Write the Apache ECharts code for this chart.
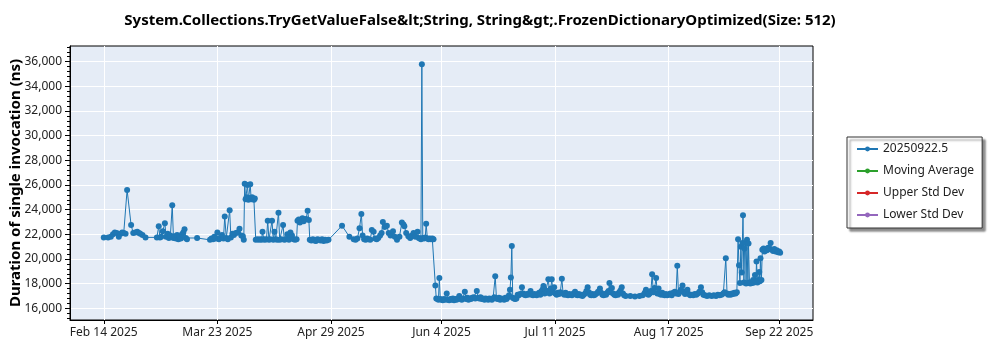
<!DOCTYPE html>
<html>
<head>
<meta charset="utf-8">
<script src="https://cdn.jsdelivr.net/npm/echarts@6/dist/echarts.min.js"></script>
<style>
  html, body { margin: 0; padding: 0; background: #ffffff; }
  #chart { width: 1000px; height: 350px; }
</style>
</head>
<body>
<div id="chart"></div>
<script>
// Benchmark run history: [days since Feb 14 2025, duration in ns]
const febMarRuns = [
  [0,21750],[1.4,21750],[2.3,21800],[3.0,22000],[3.6,22150],[4.2,22100],[4.9,21800],[5.5,22050],
  [6.0,22150],[6.5,22100],[7.1,22050],[7.6,25600],[8.9,22750],[9.6,22100],[10.2,22150],[10.9,22200],
  [11.5,22100],[11.9,22050],[12.6,21950],[13.6,21750],[17.3,21750],[17.9,22650],[18.3,21750],[18.7,21800],
  [19.2,22250],[19.9,22900],[20.3,21800],[20.8,22050],[21.2,21700],[21.7,21900],[22.3,24350],[22.7,21700],
  [23.1,21850],[23.5,21650],[23.9,21950],[24.3,21600],[24.7,21800],[25.1,21650],[25.5,22000],[25.9,22150],
  [26.3,22400],[26.7,21700],[27.1,21600],[30.4,21700],[34.6,21550],[35.1,21650],[35.6,21600],[36.0,21800],
  [36.5,21650],[37.0,22150],[37.5,21600],[38.0,21700],[38.5,21950],[39.0,21650],[39.4,23450],[39.9,21700],
  [40.4,21600],[41.0,23950],[41.4,21750],[41.9,22050],[42.4,21950],[43.0,22100],[43.6,22150],[44.2,22450],
  [44.8,21900],[45.3,21850],[45.6,21550],[45.9,26100],[46.2,24850],[46.5,25000],[46.8,26000],[47.1,24800],
  [47.4,24950],[47.7,26050],[48.0,24850],[48.3,25000],[48.6,24900],[48.9,24800],[49.2,24900]
];
const aprRuns = [
  [49.5,21550],[50.0,21600],[50.5,21550],[51.0,21600],[51.4,21550],[51.7,22200],[52.1,21600],[52.5,21550],
  [53.0,21600],[53.4,23100],[53.8,21550],[54.2,21600],[54.8,23100],[55.2,21550],[55.6,22200],[56.0,21600],
  [56.5,21550],[56.9,23750],[57.3,21550],[57.8,21600],[58.4,22750],[58.8,21550],[59.3,21600],[59.8,22000],
  [60.3,21550],[60.8,22150],[61.3,21900],[61.8,21600],[62.3,21550],[62.8,21600],[63.1,23100],[63.5,23200],
  [63.9,22950],[64.3,23150],[64.7,23300],[65.1,23050],[65.5,23200],[65.9,23250],[66.4,23900],[66.8,23150],
  [67.1,21550],[67.6,21500],[68.1,21600],[68.6,21500],[69.1,21450],[69.6,21600],[70.1,21550],[70.6,21500],
  [71.1,21600],[71.6,21450],[72.1,21550],[72.6,21500],[73.2,21550]
];
const mayRuns = [
  [77.6,22700],[80.0,21800],[81.4,21600],[82.0,21550],[82.6,21650],[83.3,22500],[83.9,23650],[84.3,21900],
  [84.8,21600],[85.3,21550],[85.8,21650],[86.3,21600],[86.8,21550],[87.3,22350],[87.9,22200],[88.4,21650],
  [88.9,21600],[89.4,21700],[90.0,21900],[90.5,22100],[90.9,23000],[91.5,22600],[92.2,22700],[92.8,22100],
  [93.4,21900],[94.2,22250],[94.8,21800],[95.5,21550],[96.3,21800],[97.1,22950],[97.6,22800],[97.9,22650],
  [98.5,22100],[99.2,21850],[99.8,21700],[100.4,21900],[100.9,22100],[101.5,21800],[102.2,22200],[102.6,21700],
  [103.0,21650],[103.3,21600],[103.6,35800],[103.9,21700],[104.3,21650],[104.7,21750],[105.0,22850],[105.4,21650],
  [105.8,21600],[106.2,21650],[106.6,21600],[107.0,21650],[107.4,21600]
];
const junRuns = [
  [108.0,17850],[108.3,16800],[108.7,16750],[109.0,16700],[109.3,18450],[109.6,16750],[110.0,16700],[110.4,16650],
  [110.8,16750],[111.2,16700],[111.7,17200],[112.1,16700],[112.5,16650],[112.9,16750],[113.3,16700],[113.7,16800],
  [114.1,16650],[114.5,16750],[114.9,16700],[115.3,16800],[115.8,17000],[116.2,16750],[116.6,16700],[117.0,16800],
  [117.6,17350],[118.0,16750],[118.4,16850],[118.8,16700],[119.2,16800],[119.6,16750],[120.0,16850],[120.5,16900],
  [121.0,16800],[121.5,17400],[121.9,16850],[122.3,16800],[122.7,16900],[123.1,16750],[123.5,16800],[124.0,16700],
  [124.4,16800],[124.8,16750],[125.2,16700],[125.6,16800],[126.0,16750],[126.4,16700],[126.8,16800],[127.2,16900],
  [127.5,18600],[127.9,16800],[128.3,16750],[128.7,16850],[129.1,16700],[129.5,16800],[130.0,16750],[130.4,16700],
  [130.8,16850],[131.2,16750],[131.6,16900],[132.0,17050],[132.3,17500],[132.6,18500],[132.9,21050],[133.2,16850],
  [133.6,16800],[134.0,16750],[134.4,16800]
];
const julRuns = [
  [134.8,17100],[135.2,17050],[135.6,17150],[136.2,17700],[136.6,17200],[137.0,17100],[137.4,17050],[137.8,17150],
  [138.2,17100],[138.6,17200],[139.0,17400],[139.4,17100],[139.8,17050],[140.2,17150],[140.6,17100],[141.0,17050],
  [141.4,17150],[141.8,17250],[142.2,17100],[142.6,17400],[143.0,17550],[143.2,17800],[143.6,17200],[144.0,17450],
  [144.4,17300],[144.8,18350],[145.2,17200],[145.6,17600],[145.9,18350],[146.3,17300],[146.7,17700],[147.1,17200],
  [147.5,17100],[147.9,17250],[148.3,17150],[148.7,17300],[149.2,18400],[149.6,17200],[150.0,17100],[150.4,17250],
  [150.8,17100],[151.2,17050],[151.6,17150],[152.0,17100],[152.5,17050],[153.0,17200],[153.5,17350],[153.9,17100],
  [154.3,17050],[154.7,17150],[155.1,17050],[155.5,17100],[155.9,17000],[156.3,17100],[156.8,17200],[157.2,17400],
  [157.6,17700],[158.0,17300],[158.4,17100],[158.8,17050],[159.2,17150],[159.6,17050],[160.0,17100],[160.5,17200],
  [161.0,17350],[161.6,17600],[162.0,17250],[162.4,17100],[162.8,17050],[163.2,17150],[163.6,17100],[164.0,17250],
  [164.4,17400],[164.7,18050],[165.1,17300],[165.5,17650],[165.9,17200],[166.3,17100],[166.7,17050],[167.1,17150],
  [167.5,17100],[167.9,17300],[168.3,17450],[168.7,17700],[169.1,17200],[169.5,17050],[170.0,17000]
];
const augRuns = [
  [171.5,17000],[173.0,16950],[174.5,17000],[175.5,17050],[176.2,17250],[176.6,17500],[177.0,17150],[177.4,17100],
  [177.8,17200],[178.2,17400],[178.6,18750],[179.0,17300],[179.4,17650],[179.9,18450],[180.3,17200],[180.7,17600],
  [181.1,17150],[181.5,17100],[181.9,17250],[182.3,17100],[182.7,17050],[183.1,17150],[183.5,17050],[184.0,17100],
  [184.5,17200],[185.0,17050],[185.5,17250],[186.0,17350],[186.4,17200],[186.8,19450],[187.2,17150],[187.6,17350],
  [188.0,17500],[188.5,17850],[188.9,17300],[189.3,17150],[189.7,17400],[190.1,17500],[190.5,17150],[191.0,17050],
  [191.5,17100],[192.0,17050],[192.5,17150],[193.0,17100],[193.5,17200],[194.0,17350],[194.5,17700],[194.9,17300],
  [195.3,17100],[195.8,17050],[196.5,17000],[197.2,17050],[198.0,17000],[198.7,17050],[199.4,17000],[200.0,17100],
  [200.6,17050],[201.2,17100],[201.8,17200],[202.2,17300],[202.6,20050],[203.0,17200],[203.4,17100],[203.8,17150],
  [204.2,17100],[204.6,17200],[205.0,17150],[205.4,17250],[205.8,17200],[206.2,17300]
];
const sepRuns = [
  [206.6,21600],[206.9,19500],[207.2,18050],[207.5,21000],[207.8,18900],[208.0,21300],[208.2,23550],[208.5,18100],
  [208.7,20850],[209.0,21300],[209.2,18000],[209.5,21550],[209.8,18050],[210.0,21250],[210.3,18100],[210.6,18000],
  [210.9,18100],[211.2,18050],[211.5,18300],[211.8,18100],[212.1,18700],[212.4,18150],[212.6,19800],[212.9,18100],
  [213.2,18300],[213.5,18950],[213.7,18200],[213.9,20050],[214.2,18300],[214.5,20750],[214.9,20850],[215.2,20600],
  [215.6,20800],[216.0,20700],[216.4,20900],[216.8,20800],[217.2,21300],[217.6,20750],[218.0,20650],[218.4,20800],
  [218.8,20600],[219.2,20700],[219.6,20550],[220.0,20600],[220.3,20500]
];

// Axis ticks
const xTickDays = [0, 37, 74, 110, 147, 184, 220];
const xTickLabels = ['Feb 14 2025', 'Mar 23 2025', 'Apr 29 2025', 'Jun 4 2025', 'Jul 11 2025', 'Aug 17 2025', 'Sep 22 2025'];
const yTickValues = [16000, 18000, 20000, 22000, 24000, 26000, 28000, 30000, 32000, 34000, 36000];
const yMinorStep = 400;

const seriesNames = ['20250922.5', 'Moving Average', 'Upper Std Dev', 'Lower Std Dev'];
const seriesColors = ['#1f77b4', '#2ca02c', '#d62728', '#9467bd'];

const runs = [].concat(febMarRuns, aprRuns, mayRuns, junRuns, julRuns, augRuns, sepRuns);

const X_MIN = -11, X_MAX = 231;
const Y_MIN = 15050, Y_MAX = 37270;

const yMinorValues = [];
for (let v = Math.ceil(Y_MIN / yMinorStep) * yMinorStep; v <= Y_MAX; v += yMinorStep) {
  if (v % 2000 !== 0) yMinorValues.push(v);
}

const FONT = '"Noto Sans", "Open Sans", sans-serif';

const chart = echarts.init(document.getElementById('chart'), null, { renderer: 'canvas' });

const series = seriesNames.map((name, i) => ({
  name: name,
  type: 'line',
  data: i === 0 ? runs : [],
  xAxisIndex: 0,
  yAxisIndex: 0,
  symbol: 'circle',
  symbolSize: 6,
  showSymbol: true,
  color: seriesColors[i],
  lineStyle: { width: 1, color: seriesColors[i] },
  itemStyle: { color: seriesColors[i] },
  emphasis: { disabled: true },
  z: 3
}));

chart.setOption({
  animation: false,
  backgroundColor: '#ffffff',
  title: {
    text: 'System.Collections.TryGetValueFalse&lt;String, String&gt;.FrozenDictionaryOptimized(Size: 512)',
    left: 475,
    top: 8,
    textAlign: 'center',
    textStyle: { fontFamily: FONT, fontSize: 15, fontWeight: 'bold', color: '#000000' }
  },
  legend: {
    data: seriesNames,
    orient: 'vertical',
    left: 847,
    top: 137,
    padding: [4, 8, 5, 9],
    itemGap: 6,
    itemWidth: 21,
    itemHeight: 6,
    backgroundColor: '#ffffff',
    borderColor: '#333333',
    borderWidth: 1,
    shadowColor: 'rgba(0,0,0,0.45)',
    shadowBlur: 2,
    shadowOffsetX: 3,
    shadowOffsetY: 3,
    textStyle: { fontFamily: FONT, fontSize: 12, color: '#222222', lineHeight: 16 }
  },
  grid: {
    left: 70, right: 187, top: 46, bottom: 30,
    outerBoundsMode: 'none',
    containLabel: false,
    show: true,
    backgroundColor: '#E5ECF6',
    borderColor: '#000000',
    borderWidth: 1
  },
  xAxis: {
    type: 'value',
    min: X_MIN,
    max: X_MAX,
    axisLine: { show: true, onZero: false, lineStyle: { color: '#000000', width: 1 } },
    axisTick: { show: true, customValues: xTickDays, length: 4, lineStyle: { color: '#000000' } },
    axisLabel: {
      customValues: xTickDays,
      margin: 7,
      fontFamily: FONT, fontSize: 12, color: '#222222',
      formatter: v => xTickLabels[xTickDays.indexOf(v)] || ''
    },
    splitLine: { show: true, lineStyle: { color: '#ffffff', width: 1 } }
  },
  yAxis: [{
    type: 'value',
    min: Y_MIN,
    max: Y_MAX,
    position: 'left',
    name: 'Duration of single invocation (ns)',
    nameLocation: 'middle',
    nameGap: 47,
    nameRotate: 90,
    nameMoveOverlap: false,
    nameTextStyle: { fontFamily: FONT, fontSize: 15, fontWeight: 'bold', color: '#000000' },
    axisLine: { show: true, onZero: false, lineStyle: { color: '#000000', width: 1 } },
    axisTick: { show: true, customValues: yTickValues, length: 5, lineStyle: { color: '#000000' } },
    axisLabel: {
      customValues: yTickValues,
      margin: 8,
      fontFamily: FONT, fontSize: 12, color: '#222222',
      formatter: v => v.toLocaleString('en-US')
    },
    splitLine: { show: true, lineStyle: { color: '#ffffff', width: 1 } }
  }, {
    type: 'value',
    min: Y_MIN,
    max: Y_MAX,
    position: 'left',
    offset: 0,
    axisLine: { show: false, onZero: false },
    axisTick: { show: true, customValues: yMinorValues, length: 3, lineStyle: { color: '#000000' } },
    axisLabel: { show: false },
    splitLine: { show: false }
  }],
  series: series
});
</script>
</body>
</html>
